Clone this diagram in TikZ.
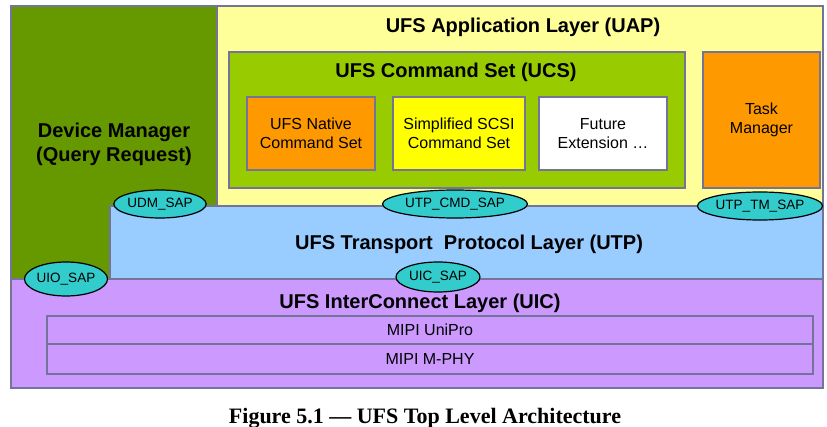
\documentclass[tikz,border=0pt]{standalone}
\usepackage{fontspec}
\setmainfont{Liberation Serif}
\setsansfont{Liberation Sans}
\usetikzlibrary{shapes.geometric}
\definecolor{bordc}{HTML}{74749A}
\definecolor{dmgreen}{HTML}{669900}
\definecolor{uapyellow}{HTML}{FFFF99}
\definecolor{ucsgreen}{HTML}{99CC00}
\definecolor{nativeorange}{HTML}{FF9900}
\definecolor{scsiyellow}{HTML}{FFFF00}
\definecolor{utpblue}{HTML}{99CCFF}
\definecolor{uicpurple}{HTML}{CC99FF}
\definecolor{sapteal}{HTML}{33CCCC}
\tikzset{
  box/.style={draw=bordc, line width=2pt, rectangle, inner sep=0pt, align=center,
    font=\sffamily\fontsize{16}{19}\selectfont},
  layer/.style={box, font=\sffamily\bfseries\fontsize{20}{24.5}\selectfont},
  title/.style={inner sep=0pt, font=\sffamily\bfseries\fontsize{20}{24}\selectfont},
  sap/.style={ellipse, draw=black, line width=1.2pt, fill=sapteal, inner sep=0pt,
    font=\sffamily\fontsize{13.5}{16}\selectfont},
  captext/.style={inner sep=0pt, font=\rmfamily\bfseries\fontsize{22}{26}\selectfont}
}
\begin{document}
\begin{tikzpicture}[x=1pt,y=-1pt]
\useasboundingbox[fill=white] (0,0) rectangle (827,427);
% layers
\node[box, fill=uapyellow, minimum width=606pt, minimum height=200pt] (uap) at (520,106) {};
\node[layer, fill=dmgreen, minimum width=206pt, minimum height=273pt, text depth=-4pt] (dm) at (114,142.5) {Device Manager\\(Query Request)};
\node[layer, fill=utpblue, minimum width=713pt, minimum height=73pt, text depth=-4pt] (utp) at (466.5,242.5) {\hspace*{5pt}UFS Transport\ \ Protocol Layer (UTP)};
\node[box, fill=uicpurple, minimum width=812pt, minimum height=109pt] (uic) at (417,333.5) {};
\node[title] (uaptitle) at (523,27) {UFS Application Layer (UAP)};
\node[title] (uictitle) at (420,303) {UFS InterConnect Layer (UIC)};
% UCS
\node[box, fill=ucsgreen, minimum width=456pt, minimum height=136pt] (ucs) at (457,120) {};
\node[title] (ucstitle) at (456,72) {UFS Command Set (UCS)};
\node[box, fill=nativeorange, minimum width=128pt, minimum height=73pt] (native) at (311,133.5) {UFS Native\\Command Set};
\node[box, fill=scsiyellow, minimum width=132pt, minimum height=73pt] (scsi) at (459,133.5) {Simplified SCSI\\Command Set};
\node[box, fill=white, minimum width=128pt, minimum height=73pt] (future) at (603,133.5) {Future\\Extension \dots};
\node[box, fill=nativeorange, minimum width=117pt, minimum height=136pt] (tm) at (761.5,120) {Task\\Manager};
% MIPI
\node[box, minimum width=766pt, minimum height=28pt] (unipro) at (430,330) {MIPI UniPro};
\node[box, minimum width=766pt, minimum height=30pt] (mphy) at (430,359) {MIPI M-PHY};
% SAPs
\node[sap, minimum width=88pt, minimum height=28pt] (udm) at (160,204) {UDM\_SAP};
\node[sap, minimum width=145pt, minimum height=28pt] (cmd) at (455,204) {UTP\_CMD\_SAP};
\node[sap, minimum width=114pt, minimum height=28pt] (tmsap) at (760,206) {UTP\_TM\_SAP};
\node[sap, minimum width=83pt, minimum height=34pt] (uio) at (66,279) {UIO\_SAP};
\node[sap, minimum width=84pt, minimum height=30pt] (uicsap) at (438,277) {UIC\_SAP};
% caption
\node[captext, anchor=base] (caption) at (425,423) {Figure 5.1 --- UFS Top Level Architecture};
\end{tikzpicture}
\end{document}
